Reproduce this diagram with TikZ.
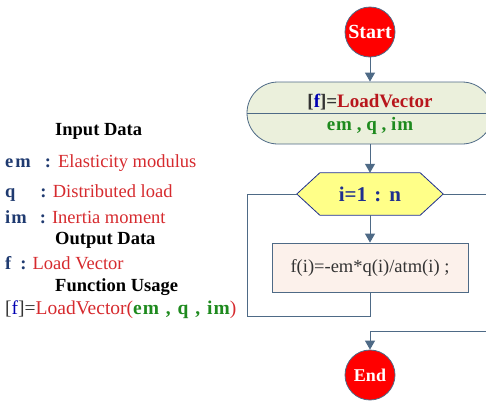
\documentclass[tikz,border=0pt]{standalone}
\usepackage{fontspec}
\setmainfont{Liberation Serif}
\usetikzlibrary{arrows.meta,backgrounds}
\definecolor{navy}{HTML}{1F3A70}
\definecolor{txtred}{HTML}{D62A2E}
\definecolor{darkred}{HTML}{B8161C}
\definecolor{grn}{HTML}{1E8A1E}
\definecolor{linec}{HTML}{4E6A86}
\definecolor{termfill}{HTML}{EBF0DC}
\definecolor{hexfill}{HTML}{FFFF88}
\definecolor{hexdraw}{HTML}{1F2F8F}
\definecolor{boxfill}{HTML}{FCF1EB}
\definecolor{txtgray}{HTML}{333333}
\begin{document}
\begin{tikzpicture}[x=1pt,y=-1pt,
  every node/.style={font=\fontsize{18.5}{20}\selectfont},
  circ/.style={circle,minimum size=50pt,inner sep=0pt,fill=red,draw=linec,line width=0.8pt,text=white},
  term/.style={rectangle,rounded corners=31pt,minimum width=246pt,minimum height=62pt,fill=termfill,draw=linec,line width=0.8pt},
  procbox/.style={rectangle,minimum width=196pt,minimum height=49pt,fill=boxfill,draw=linec,line width=0.8pt,text=txtgray},
  conn/.style={draw=linec,line width=1pt},
  arr/.style={conn,-{Triangle[length=9pt,width=10pt]}},
  lbl/.style={anchor=west,inner sep=0pt},
  head/.style={anchor=west,inner sep=0pt,font=\fontsize{18.5}{20}\selectfont\bfseries}
]
\useasboundingbox (0,0) rectangle (486,400);
\clip (0,0) rectangle (486,400);

% left text
\node[head] (h1) at (55,131) {Input Data};
\node[lbl] (l1) at (5,163) {\textbf{\color{navy}e\kern2pt m}\hspace{14pt}\textbf{\color{navy}:}\hspace{1pt} \color{txtred}Elasticity modulus};
\node[lbl] (l2) at (5,193) {\textbf{\color{navy}q}\hspace{25pt}\textbf{\color{navy}:} \color{txtred}Distributed load};
\node[lbl] (l3) at (5,217) {\textbf{\color{navy}i\kern1pt m}\hspace{13pt}\textbf{\color{navy}:} \color{txtred}Inertia moment};
\node[head] (h2) at (55,240) {Output Data};
\node[lbl] (l4) at (5,263) {\textbf{\color{navy}f}\hspace{9pt}\textbf{\color{navy}:} \color{txtred}Load Vector};
\node[head] (h3) at (55,287) {Function Usage};
\node[lbl,font=\fontsize{19.5}{20}\selectfont] (l5) at (5,310) {{\color{txtgray}[}{\color{blue!70!black}f}{\color{txtgray}]=}\color{txtred}LoadVector(\textbf{\color{grn}e\kern1pt m\hspace{2pt} ,\hspace{2pt} q\hspace{2pt} ,\hspace{2pt} i\kern1pt m})};

% flowchart
\node[circ,font=\fontsize{20}{20}\selectfont\bfseries] (start) at (370,32) {Start};
\node[term] (fn) at (370,113) {};
\draw[conn,line width=0.8pt] (fn.west) -- (fn.east);
\node[inner sep=0pt,font=\fontsize{19}{20}\selectfont\bfseries] (fnname) at (370,102) {{\color{txtgray}[}{\color{blue!70!black}f}{\color{txtgray}]=}{\color{darkred}LoadVector}};
\node[inner sep=0pt,font=\fontsize{19}{20}\selectfont\bfseries] (fnargs) at (370,126) {\color{grn}e\kern1pt m , q , i\kern1pt m};

\node[inner sep=0pt,minimum width=146pt,minimum height=42pt,font=\fontsize{21}{22}\selectfont\bfseries,text=hexdraw] (loop) at (370,194) {i=1\hspace{2pt} : \hspace{1pt}n};
\begin{scope}[on background layer]
\draw[fill=hexfill,draw=hexdraw,line width=0.8pt] (loop.west) -- ([xshift=23pt]loop.north west) -- ([xshift=-23pt]loop.north east) -- (loop.east) -- ([xshift=-23pt]loop.south east) -- ([xshift=23pt]loop.south west) -- cycle;
\end{scope}

\node[procbox] (body) at (370,267.5) {f(i)=-em*q(i)/atm(i) ;};
\node[circ,font=\fontsize{18}{20}\selectfont\bfseries] (end) at (370,375) {End};

\coordinate (lb) at (247,316);
\coordinate (rb) at (500,331);

\draw[arr] (start) -- (fn);
\draw[arr] (fn) -- (loop.north);
\draw[arr] (loop.south) -- (body);
\draw[conn] (body.south) |- (lb) |- (loop.west);
\draw[arr] (loop.east) -| (rb) -| (end.north);
\end{tikzpicture}
\end{document}
